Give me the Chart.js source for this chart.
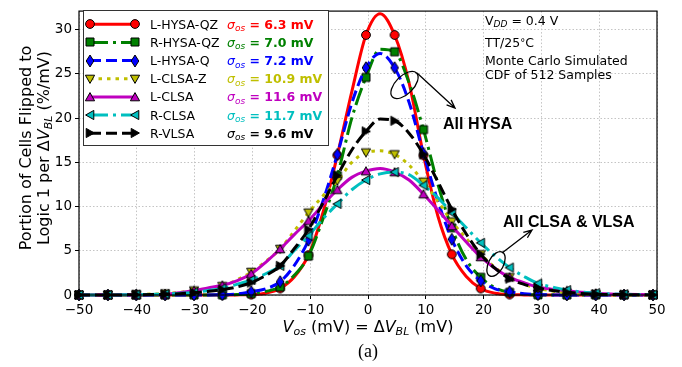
<!DOCTYPE html>
<html>
<head>
<meta charset="utf-8">
<script src="https://cdn.jsdelivr.net/npm/chart.js@4.4.1/dist/chart.umd.min.js"></script>
<style>
  html, body { margin: 0; padding: 0; background: #fff; }
  #wrap { width: 682px; height: 367px; }
</style>
</head>
<body>
<div id="wrap"><canvas id="chart" width="682" height="367"></canvas></div>
<script>
// offset voltage (mV): even indices carry a marker, odd ones are read between markers
const vosMv = [-50, -47.5, -45.0, -42.5, -40.1, -37.6, -35.1, -32.6, -30.1, -27.7,
  -25.2, -22.7, -20.2, -17.7, -15.2, -12.8, -10.3, -7.8, -5.3, -2.8,
  -0.35, 2.1, 4.6, 7.1, 9.6, 12.1, 14.5, 17.0, 19.5, 22.0,
  24.5, 27.0, 29.4, 31.9, 34.4, 36.9, 39.4, 41.9, 44.3, 46.8, 49.3];

const lHysaQz = [0,0,0,0,0,0,0,0,0,0,0,0.01,0.05,0.2,0.74,2.0,4.5,9.3,15.8,23.0,
  29.4,31.8,29.4,24.0,15.8,8.9,4.6,2.1,0.74,0.2,0.05,0.01,0,0,0,0,0,0,0,0,0];
const rHysaQz = [0,0,0,0,0,0,0,0,0,0,0.02,0.05,0.15,0.4,0.9,2.2,4.4,8.6,13.5,20.0,
  24.6,27.8,27.5,24.0,18.7,12.5,7.6,4.0,2.0,0.8,0.3,0.1,0.03,0,0,0,0,0,0,0,0];
const lHysaQ = [0,0,0,0,0,0,0,0,0.01,0.01,0.03,0.1,0.37,0.7,1.5,3.3,6.2,10.6,15.9,21.7,
  25.7,27.3,25.7,21.8,16.0,10.6,6.3,3.3,1.6,0.7,0.37,0.15,0.05,0.01,0,0,0,0,0,0,0];
const lClsaZ = [0,0,0.01,0.02,0.05,0.1,0.15,0.3,0.5,0.7,1.0,1.7,2.6,3.8,5.2,7.2,9.3,11.2,12.9,15.0,
  16.1,16.3,15.9,14.7,12.8,10.6,8.3,6.4,4.6,3.1,2.0,1.2,0.75,0.45,0.25,0.12,0.07,0.04,0.02,0.01,0];
const lClsa = [0,0,0.01,0.02,0.03,0.05,0.08,0.25,0.5,0.8,1.1,1.6,2.4,3.7,5.2,6.8,8.4,10.2,11.9,13.3,
  14.0,14.3,13.9,13.0,11.4,9.6,7.8,6.0,4.3,3.0,2.0,1.4,0.9,0.65,0.5,0.3,0.2,0.12,0.08,0.05,0.03];
const rClsa = [0,0,0,0.02,0.04,0.07,0.1,0.18,0.3,0.5,0.75,1.2,1.7,2.4,3.3,5.0,6.7,8.6,10.3,11.9,
  13.0,13.7,13.9,13.6,12.4,11.0,9.3,7.6,5.9,4.4,3.1,2.1,1.3,0.9,0.55,0.35,0.2,0.12,0.08,0.05,0.03];
const rVlsa = [0,0,0,0.01,0.03,0.05,0.08,0.15,0.25,0.4,0.6,0.9,1.4,2.2,3.3,5.2,7.4,10.4,13.5,16.4,
  18.5,19.9,19.7,18.3,15.9,12.8,9.7,6.9,4.6,3.0,1.85,1.2,0.8,0.5,0.3,0.18,0.1,0.06,0.04,0.02,0.01];

const seriesNames = ['L-HYSA-QZ', 'R-HYSA-QZ', 'L-HYSA-Q', 'L-CLSA-Z', 'L-CLSA', 'R-CLSA', 'R-VLSA'];
const sigmaValues = ['6.3', '7.0', '7.2', '10.9', '11.6', '11.7', '9.6'];
const seriesData = [lHysaQz, rHysaQz, lHysaQ, lClsaZ, lClsa, rClsa, rVlsa];
const xTicks = [-50, -40, -30, -20, -10, 0, 10, 20, 30, 40, 50];
const yTicks = [0, 5, 10, 15, 20, 25, 30];

const styles = [
  { color: '#ff0000', dash: [], marker: 'circle' },
  { color: '#008000', dash: [18, 5, 3, 5], marker: 'square' },
  { color: '#0000ff', dash: [11, 5], marker: 'diamond' },
  { color: '#bfbf00', dash: [3.5, 5], marker: 'triDown' },
  { color: '#bf00bf', dash: [], marker: 'triUp' },
  { color: '#00bfbf', dash: [18, 5, 3, 5], marker: 'triLeft' },
  { color: '#000000', dash: [11, 5], marker: 'triRight' }
];

const FONT = "'DejaVu Sans'";
Chart.defaults.font.family = FONT;

function makeMarker(kind, fill) {
  const c = document.createElement('canvas');
  c.width = 14; c.height = 14;
  const g = c.getContext('2d');
  const m = 7;
  g.beginPath();
  if (kind === 'circle') g.arc(m, m, 4.4, 0, 2 * Math.PI);
  else if (kind === 'square') g.rect(m - 4, m - 4, 8, 8);
  else if (kind === 'diamond') { g.moveTo(m, m - 6); g.lineTo(m + 3.8, m); g.lineTo(m, m + 6); g.lineTo(m - 3.8, m); g.closePath(); }
  else if (kind === 'triDown') { g.moveTo(m - 4.6, m - 3.8); g.lineTo(m + 4.6, m - 3.8); g.lineTo(m, m + 4.4); g.closePath(); }
  else if (kind === 'triUp') { g.moveTo(m - 4.6, m + 3.8); g.lineTo(m + 4.6, m + 3.8); g.lineTo(m, m - 4.4); g.closePath(); }
  else if (kind === 'triLeft') { g.moveTo(m + 3.8, m - 4.6); g.lineTo(m + 3.8, m + 4.6); g.lineTo(m - 4.4, m); g.closePath(); }
  else { g.moveTo(m - 3.8, m - 4.6); g.lineTo(m - 3.8, m + 4.6); g.lineTo(m + 4.4, m); g.closePath(); }
  g.fillStyle = fill;
  g.fill();
  g.lineWidth = 1;
  g.strokeStyle = '#000';
  g.stroke();
  return c;
}

const markers = styles.map(s => makeMarker(s.marker, s.color));

const datasets = seriesData.map((arr, i) => ({
  label: seriesNames[i],
  data: vosMv.map((x, j) => ({ x: x, y: arr[j] })),
  borderColor: styles[i].color,
  borderWidth: 3,
  borderDash: styles[i].dash,
  cubicInterpolationMode: 'monotone',
  pointStyle: markers[i],
  pointRadius: ctx => ctx.dataIndex % 2 === 0 ? 5 : 0,
  pointHoverRadius: 0,
  fill: false,
  clip: false,
  order: seriesData.length - i
}));

function drawRuns(ctx, runs, x, y, align) {
  let w = 0;
  runs.forEach(r => { ctx.font = r.font; r.w = ctx.measureText(r.t).width; w += r.w; });
  let cx = align === 'center' ? x - w / 2 : x;
  runs.forEach(r => {
    ctx.font = r.font;
    ctx.fillStyle = r.color || '#000';
    ctx.fillText(r.t, cx, y + (r.dy || 0));
    cx += r.w;
  });
}

function arrow(ctx, x1, y1, x2, y2) {
  const a = Math.atan2(y2 - y1, x2 - x1);
  ctx.beginPath();
  ctx.moveTo(x1, y1);
  ctx.lineTo(x2, y2);
  ctx.moveTo(x2 - 9 * Math.cos(a - 0.38), y2 - 9 * Math.sin(a - 0.38));
  ctx.lineTo(x2, y2);
  ctx.lineTo(x2 - 9 * Math.cos(a + 0.38), y2 - 9 * Math.sin(a + 0.38));
  ctx.stroke();
}

const decorations = {
  id: 'decorations',
  afterDraw(chart) {
    const ctx = chart.ctx;
    const area = chart.chartArea;
    ctx.save();
    ctx.setLineDash([]);
    ctx.textBaseline = 'alphabetic';

    // frame
    ctx.strokeStyle = '#000';
    ctx.lineWidth = 1.2;
    ctx.strokeRect(area.left, area.top, area.right - area.left, area.bottom - area.top);

    // legend
    ctx.fillStyle = '#fff';
    ctx.fillRect(83.5, 10.5, 245, 135);
    ctx.strokeStyle = '#333';
    ctx.lineWidth = 1;
    ctx.strokeRect(83.5, 10.5, 245, 135);
    for (let i = 0; i < seriesNames.length; i++) {
      const y = 24.3 + i * 18.15;
      ctx.strokeStyle = styles[i].color;
      ctx.lineWidth = 3;
      ctx.setLineDash(styles[i].dash);
      ctx.beginPath();
      ctx.moveTo(90, y);
      ctx.lineTo(135, y);
      ctx.stroke();
      ctx.setLineDash([]);
      ctx.drawImage(markers[i], 90 - 7, Math.round(y) - 7);
      ctx.drawImage(markers[i], 135 - 7, Math.round(y) - 7);
      ctx.fillStyle = '#000';
      ctx.font = '12.5px ' + FONT;
      ctx.fillText(seriesNames[i], 150, y + 4.5);
      const col = styles[i].color === '#bfbf00' ? '#bfbf00' : styles[i].color;
      drawRuns(ctx, [
        { t: '\u03C3', font: 'italic 12.5px ' + FONT, color: col },
        { t: 'os', font: 'italic 9px ' + FONT, color: col, dy: 2.5 },
        { t: ' = ' + sigmaValues[i] + ' mV', font: 'bold 12.5px ' + FONT, color: col }
      ], 227, y + 4.5, 'left');
    }

    // annotations
    ctx.fillStyle = '#000';
    drawRuns(ctx, [
      { t: 'V', font: '12.5px ' + FONT },
      { t: 'DD', font: 'italic 9px ' + FONT, dy: 2.5 },
      { t: ' = 0.4 V', font: '12.5px ' + FONT }
    ], 485, 24.5, 'left');
    drawRuns(ctx, [
      { t: 'TT/25', font: '12.5px ' + FONT },
      { t: '\u00B0', font: '10px ' + FONT, dy: -1 },
      { t: 'C', font: '12.5px ' + FONT }
    ], 485, 47, 'left');
    ctx.font = '12.5px ' + FONT;
    ctx.fillText('Monte Carlo Simulated', 485, 65);
    ctx.fillText('CDF of 512 Samples', 485, 79);

    ctx.font = "bold 16px 'Liberation Sans'";
    ctx.fillText('All HYSA', 443, 129);
    ctx.fillText('All CLSA & VLSA', 503, 227);

    ctx.strokeStyle = '#000';
    ctx.lineWidth = 1.3;
    ctx.beginPath();
    ctx.ellipse(404.5, 85, 17, 9, -Math.PI / 4, 0, 2 * Math.PI);
    ctx.stroke();
    arrow(ctx, 417, 73, 455, 108);
    ctx.beginPath();
    ctx.ellipse(496, 264, 13.5, 7.5, -62 * Math.PI / 180, 0, 2 * Math.PI);
    ctx.stroke();
    arrow(ctx, 502, 253, 532, 230);

    // axis titles
    ctx.fillStyle = '#000';
    drawRuns(ctx, [
      { t: 'V', font: 'italic 16px ' + FONT },
      { t: 'os', font: 'italic 11px ' + FONT, dy: 3 },
      { t: ' (mV) = \u0394', font: '16px ' + FONT },
      { t: 'V', font: 'italic 16px ' + FONT },
      { t: 'BL', font: 'italic 11px ' + FONT, dy: 3 },
      { t: ' (mV)', font: '16px ' + FONT }
    ], 368, 332, 'center');
    ctx.font = "18px 'Liberation Serif'";
    ctx.textAlign = 'center';
    ctx.fillText('(a)', 368, 357);
    ctx.textAlign = 'left';

    ctx.save();
    ctx.translate(31, 148);
    ctx.rotate(-Math.PI / 2);
    drawRuns(ctx, [{ t: 'Portion of Cells Flipped to', font: '16px ' + FONT }], 0, 0, 'center');
    drawRuns(ctx, [
      { t: 'Logic 1 per \u0394', font: '16px ' + FONT },
      { t: 'V', font: 'italic 16px ' + FONT },
      { t: 'BL', font: 'italic 11px ' + FONT, dy: 3 },
      { t: ' (%/mV)', font: '16px ' + FONT }
    ], 0, 17.5, 'center');
    ctx.restore();

    ctx.restore();
  }
};

const gridStyle = {
  color: '#c4c4c4',
  lineWidth: 1,
  tickLength: 4,
  tickColor: '#000',
  tickWidth: 1,
  tickBorderDash: []
};

new Chart(document.getElementById('chart'), {
  type: 'line',
  data: { datasets: datasets },
  options: {
    responsive: false,
    animation: false,
    devicePixelRatio: 1,
    events: [],
    layout: { padding: { top: 6, right: 25, left: 0, bottom: 0 } },
    plugins: { legend: { display: false }, tooltip: { enabled: false } },
    scales: {
      x: {
        type: 'linear',
        min: -50,
        max: 50,
        grid: gridStyle,
        border: { display: false, dash: [1.5, 2] },
        afterBuildTicks: s => { s.ticks = xTicks.map(v => ({ value: v })); },
        afterFit: s => { s.height = 72; },
        ticks: {
          color: '#000',
          padding: 3,
          maxRotation: 0,
          font: { size: 13.5 },
          callback: v => (v < 0 ? '\u2212' + Math.abs(v) : String(v))
        }
      },
      y: {
        type: 'linear',
        min: 0,
        max: 32.1,
        grid: gridStyle,
        border: { display: false, dash: [1.5, 2] },
        afterBuildTicks: s => { s.ticks = yTicks.map(v => ({ value: v })); },
        afterFit: s => { s.width = 79; },
        ticks: {
          color: '#000',
          padding: 3,
          font: { size: 13.5 },
          callback: v => String(v)
        }
      }
    }
  },
  plugins: [decorations]
});
</script>
</body>
</html>
